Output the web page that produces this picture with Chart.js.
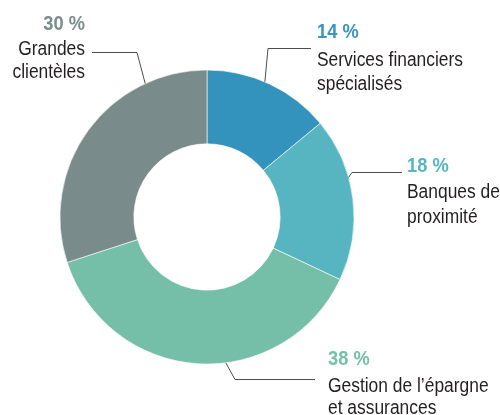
<!DOCTYPE html>
<html><head><meta charset="utf-8">
<script src="https://cdn.jsdelivr.net/npm/chart.js@4"></script>
<style>html,body{margin:0;padding:0;background:#fff}#wrap{width:500px;height:415px;position:relative}</style>
</head><body><div id="wrap"><canvas id="c" width="500" height="415"></canvas></div>
<script>
const categories = ["Services financiers spécialisés", "Banques de proximité", "Gestion de l’épargne et assurances", "Grandes clientèles"];
const shares = [14, 18, 38, 30];
const pctLabels = ["14 %", "18 %", "38 %", "30 %"];
const labelLines = [["Services financiers", "spécialisés"], ["Banques de", "proximité"], ["Gestion de l’épargne", "et assurances"], ["Grandes", "clientèles"]];
const colors = ["#3493bc", "#57b5c1", "#75bea7", "#7a8b8b"];
const pctColors = ["#3a96c0", "#55b7c4", "#76c0a8", "#7a8c8c"];

// layout (positions only)
const FONT = '"Liberation Sans", Arial, sans-serif';
const SX = 0.87;
const labelLayout = [
  {frac:0.46, elbow:[268,48], end:[311,48], x:317, align:'left', base:[38,65.5,89.5]},
  {frac:0.37, elbow:[352,172], end:[402,172], x:407, align:'left', base:[171.5,198,222.5]},
  {frac:0.42, elbow:[235,379], end:[315,379], x:328, align:'left', base:[365,391.5,414]},
  {frac:0.77, elbow:[137,52], end:[92,52], x:85, align:'right', base:[30,55,78]}
];

function condText(ctx, t, x, y) {
  ctx.save();
  ctx.translate(x, y);
  ctx.scale(SX, 1);
  ctx.fillText(t, 0, 0);
  ctx.restore();
}

const leaderPlugin = {
  id: 'leaders',
  afterDraw(chart) {
    const ctx = chart.ctx;
    const meta = chart.getDatasetMeta(0);
    ctx.save();
    meta.data.forEach((arc, i) => {
      const L = labelLayout[i];
      const p = arc.getProps(['x','y','startAngle','endAngle','outerRadius'], true);
      const a = p.startAngle + L.frac * (p.endAngle - p.startAngle);
      const ax = p.x + Math.cos(a) * p.outerRadius;
      const ay = p.y + Math.sin(a) * p.outerRadius;
      ctx.strokeStyle = '#4d4d4f';
      ctx.lineWidth = 1;
      ctx.beginPath();
      ctx.moveTo(ax, ay);
      ctx.lineTo(L.elbow[0], L.elbow[1] + 0.5);
      ctx.lineTo(L.end[0], L.end[1] + 0.5);
      ctx.stroke();
      ctx.textAlign = L.align;
      ctx.textBaseline = 'alphabetic';
      ctx.fillStyle = pctColors[i];
      ctx.font = 'bold 21px ' + FONT;
      condText(ctx, pctLabels[i], L.x, L.base[0]);
      ctx.fillStyle = '#231f20';
      ctx.font = '20px ' + FONT;
      labelLines[i].forEach((t, j) => condText(ctx, t, L.x, L.base[j+1]));
    });
    ctx.restore();
  }
};

new Chart(document.getElementById('c'), {
  type: 'doughnut',
  data: { labels: categories, datasets: [{ data: shares, backgroundColor: colors, borderColor: '#ffffff', borderWidth: 0.6 }] },
  options: {
    responsive: false, animation: false,
    radius: 147, cutout: 73,
    layout: { padding: { left: 60, right: 146, top: 70, bottom: 51 } },
    plugins: { legend: { display: false }, tooltip: { enabled: false } }
  },
  plugins: [leaderPlugin]
});
</script></body></html>
